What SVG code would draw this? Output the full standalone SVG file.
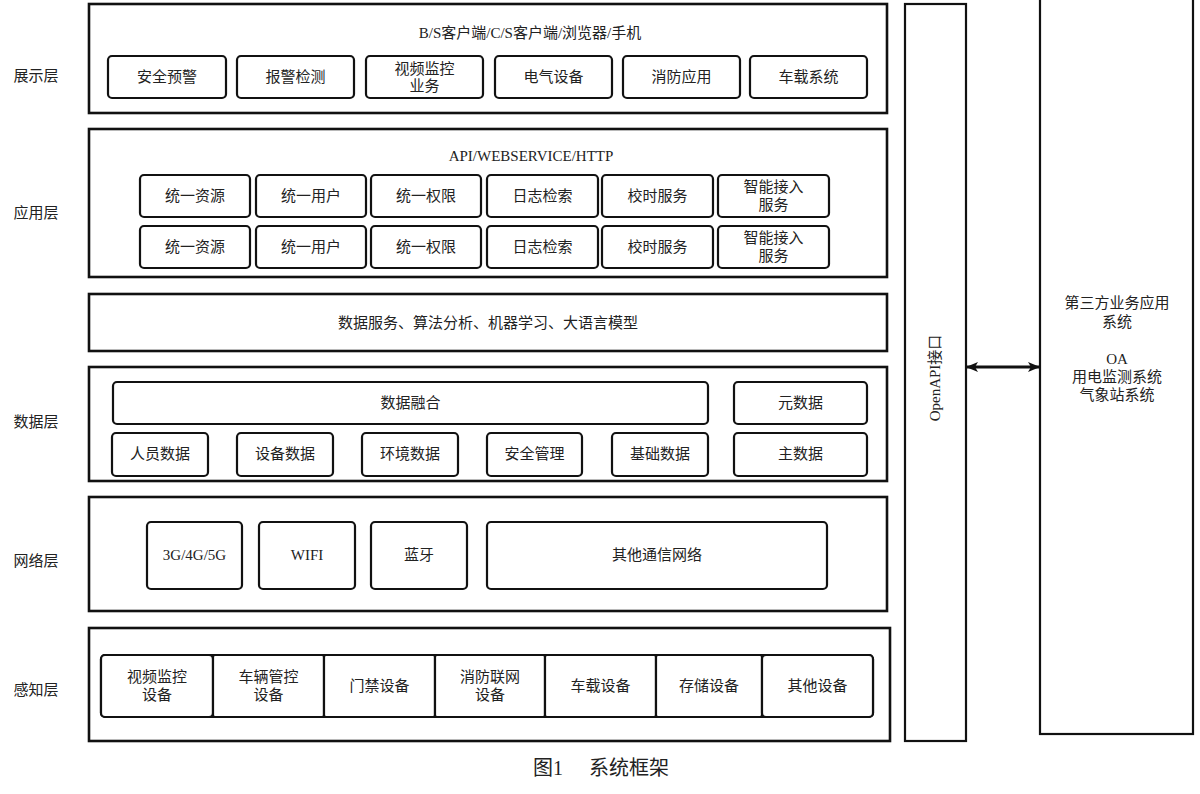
<svg xmlns="http://www.w3.org/2000/svg" width="1200" height="794" viewBox="0 0 1200 794">
<style>
.outer{fill:#fff;stroke:#111;stroke-width:2.6}
.box{fill:#fff;stroke:#111;stroke-width:2.2}
.t{font-family:"Liberation Serif","Noto Sans CJK SC",serif;font-size:15px;fill:#222;text-anchor:middle;dominant-baseline:central}
.lab{font-family:"Liberation Serif","Noto Sans CJK SC",serif;font-size:15px;fill:#222;text-anchor:middle;dominant-baseline:central}
</style>
<defs>
<marker id="ah" viewBox="0 0 12 10" refX="11" refY="5" markerWidth="12" markerHeight="10" markerUnits="userSpaceOnUse" orient="auto-start-reverse">
<path d="M0,0 L12,5 L0,10 L3,5 z" fill="#111"/>
</marker>
</defs>
<rect width="1200" height="794" fill="#fff"/>

<g id="labels">
<text class="lab" x="36" y="76">展示层</text>
<text class="lab" x="36" y="213">应用层</text>
<text class="lab" x="36" y="422">数据层</text>
<text class="lab" x="36" y="561">网络层</text>
<text class="lab" x="36" y="690">感知层</text>
</g>

<g id="layer-display">
<rect class="outer" x="89" y="4" width="798" height="109"/>
<text class="t" x="530" y="33">B/S客户端/C/S客户端/浏览器/手机</text>
<g id="d1"><rect class="box" x="108" y="56" width="118" height="42" rx="4"/><text class="t" x="167" y="77">安全预警</text></g>
<g id="d2"><rect class="box" x="237" y="56" width="117" height="42" rx="4"/><text class="t" x="295.5" y="77">报警检测</text></g>
<g id="d3"><rect class="box" x="366" y="56" width="117" height="42" rx="4"/><text class="t" x="424.5" y="69">视频监控</text><text class="t" x="424.5" y="86">业务</text></g>
<g id="d4"><rect class="box" x="495" y="56" width="117" height="42" rx="4"/><text class="t" x="553.5" y="77">电气设备</text></g>
<g id="d5"><rect class="box" x="623" y="56" width="117" height="42" rx="4"/><text class="t" x="681.5" y="77">消防应用</text></g>
<g id="d6"><rect class="box" x="750" y="56" width="117" height="42" rx="4"/><text class="t" x="808.5" y="77">车载系统</text></g>
</g>

<g id="layer-app">
<rect class="outer" x="89" y="129" width="798" height="148"/>
<text class="t" x="531" y="156">API/WEBSERVICE/HTTP</text>
<g id="a1"><rect class="box" x="140" y="175" width="110" height="42" rx="4"/><text class="t" x="195" y="196">统一资源</text></g>
<g id="a2"><rect class="box" x="256" y="175" width="110" height="42" rx="4"/><text class="t" x="311" y="196">统一用户</text></g>
<g id="a3"><rect class="box" x="371" y="175" width="110" height="42" rx="4"/><text class="t" x="426" y="196">统一权限</text></g>
<g id="a4"><rect class="box" x="487" y="175" width="111" height="42" rx="4"/><text class="t" x="542.5" y="196">日志检索</text></g>
<g id="a5"><rect class="box" x="602" y="175" width="111" height="42" rx="4"/><text class="t" x="657.5" y="196">校时服务</text></g>
<g id="a6"><rect class="box" x="718" y="175" width="111" height="42" rx="4"/><text class="t" x="773.5" y="187">智能接入</text><text class="t" x="773.5" y="205">服务</text></g>
<g id="a7"><rect class="box" x="140" y="226" width="110" height="42" rx="4"/><text class="t" x="195" y="247">统一资源</text></g>
<g id="a8"><rect class="box" x="256" y="226" width="110" height="42" rx="4"/><text class="t" x="311" y="247">统一用户</text></g>
<g id="a9"><rect class="box" x="371" y="226" width="110" height="42" rx="4"/><text class="t" x="426" y="247">统一权限</text></g>
<g id="a10"><rect class="box" x="487" y="226" width="111" height="42" rx="4"/><text class="t" x="542.5" y="247">日志检索</text></g>
<g id="a11"><rect class="box" x="602" y="226" width="111" height="42" rx="4"/><text class="t" x="657.5" y="247">校时服务</text></g>
<g id="a12"><rect class="box" x="718" y="226" width="111" height="42" rx="4"/><text class="t" x="773.5" y="238">智能接入</text><text class="t" x="773.5" y="256">服务</text></g>
</g>

<g id="layer-service">
<rect class="outer" x="89" y="294" width="798" height="57"/>
<text class="t" x="488" y="323">数据服务、算法分析、机器学习、大语言模型</text>
</g>

<g id="layer-data">
<rect class="outer" x="89" y="367" width="798" height="114"/>
<g id="m1"><rect class="box" x="113" y="382" width="595" height="42" rx="4"/><text class="t" x="410.5" y="403">数据融合</text></g>
<g id="m2"><rect class="box" x="734" y="382" width="133" height="42" rx="4"/><text class="t" x="800.5" y="403">元数据</text></g>
<g id="m3"><rect class="box" x="112" y="433" width="96" height="43" rx="4"/><text class="t" x="160" y="454">人员数据</text></g>
<g id="m4"><rect class="box" x="237" y="433" width="96" height="43" rx="4"/><text class="t" x="285" y="454">设备数据</text></g>
<g id="m5"><rect class="box" x="362" y="433" width="96" height="43" rx="4"/><text class="t" x="410" y="454">环境数据</text></g>
<g id="m6"><rect class="box" x="487" y="433" width="95" height="43" rx="4"/><text class="t" x="534.5" y="454">安全管理</text></g>
<g id="m7"><rect class="box" x="612" y="433" width="96" height="43" rx="4"/><text class="t" x="660" y="454">基础数据</text></g>
<g id="m8"><rect class="box" x="734" y="433" width="133" height="43" rx="4"/><text class="t" x="800.5" y="454">主数据</text></g>
</g>

<g id="layer-network">
<rect class="outer" x="89" y="497" width="798" height="114"/>
<g id="n1"><rect class="box" x="147" y="522" width="95" height="67" rx="4"/><text class="t" x="194.5" y="555">3G/4G/5G</text></g>
<g id="n2"><rect class="box" x="259" y="522" width="96" height="67" rx="4"/><text class="t" x="307" y="555">WIFI</text></g>
<g id="n3"><rect class="box" x="371" y="522" width="96" height="67" rx="4"/><text class="t" x="419" y="555">蓝牙</text></g>
<g id="n4"><rect class="box" x="487" y="522" width="340" height="67" rx="4"/><text class="t" x="657" y="555">其他通信网络</text></g>
</g>

<g id="layer-sense">
<rect class="outer" x="89" y="628" width="801" height="113"/>
<rect class="box" x="101" y="655" width="772" height="62" rx="4"/>
<g id="s1"><rect class="box" x="101" y="655" width="112" height="62" rx="4"/><text class="t" x="157" y="677">视频监控</text><text class="t" x="157" y="695">设备</text></g>
<g id="s2"><rect class="box" x="213" y="655" width="111" height="62" rx="2"/><text class="t" x="268.5" y="677">车辆管控</text><text class="t" x="268.5" y="695">设备</text></g>
<g id="s3"><rect class="box" x="324" y="655" width="111" height="62" rx="2"/><text class="t" x="379.5" y="686">门禁设备</text></g>
<g id="s4"><rect class="box" x="435" y="655" width="110" height="62" rx="2"/><text class="t" x="490" y="677">消防联网</text><text class="t" x="490" y="695">设备</text></g>
<g id="s5"><rect class="box" x="545" y="655" width="111" height="62" rx="2"/><text class="t" x="600.5" y="686">车载设备</text></g>
<g id="s6"><rect class="box" x="656" y="655" width="106" height="62" rx="2"/><text class="t" x="709" y="686">存储设备</text></g>
<g id="s7"><rect class="box" x="762" y="655" width="111" height="62" rx="4"/><text class="t" x="817.5" y="686">其他设备</text></g>
</g>

<g id="openapi">
<rect class="box" x="905" y="4" width="61" height="737"/>
<text class="t" transform="translate(935,378) rotate(-90)">OpenAPI接口</text>
</g>

<g id="thirdparty">
<rect class="box" x="1040" y="-4" width="153" height="738"/>
<text class="t" x="1117" y="303">第三方业务应用</text>
<text class="t" x="1117" y="322">系统</text>
<text class="t" x="1117" y="359">OA</text>
<text class="t" x="1117" y="377">用电监测系统</text>
<text class="t" x="1117" y="395">气象站系统</text>
</g>

<g id="connectors">
<line x1="967" y1="367" x2="1039" y2="367" stroke="#111" stroke-width="2.8" marker-start="url(#ah)" marker-end="url(#ah)"/>
</g>

<g id="caption">
<text x="548" y="768" style="font-family:'Liberation Serif','Noto Sans CJK SC',serif;font-size:20px;fill:#222;text-anchor:middle;dominant-baseline:central">图1</text>
<text x="629" y="768" style="font-family:'Liberation Serif','Noto Sans CJK SC',serif;font-size:20px;fill:#222;text-anchor:middle;dominant-baseline:central">系统框架</text>
</g>
</svg>
